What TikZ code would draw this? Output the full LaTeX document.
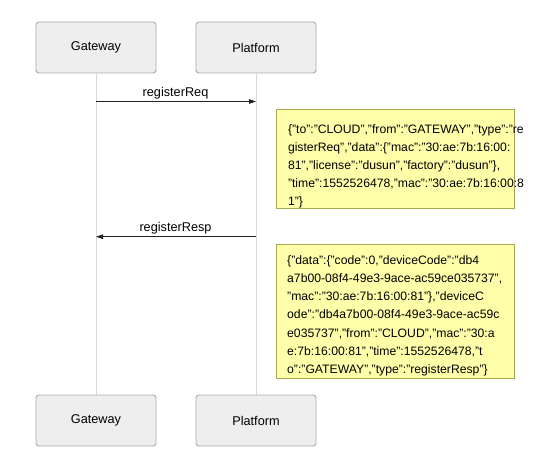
\documentclass[tikz,border=0pt]{standalone}
\usepackage{fontspec}
\setmainfont{Liberation Sans}
\usetikzlibrary{arrows.meta}
\definecolor{boxfill}{HTML}{EEEEEE}
\definecolor{boxdraw}{HTML}{AAAAAA}
\definecolor{lifecol}{HTML}{D8D8D8}
\definecolor{notefill}{HTML}{FFFFAA}
\definecolor{notedraw}{HTML}{A8A850}
\definecolor{msgcol}{HTML}{222222}
\begin{document}
\begin{tikzpicture}[x=1pt,y=-1pt,
  actor/.style={draw=boxdraw, fill=boxfill, rounded corners=3pt, line width=0.9pt,
    minimum width=120pt, minimum height=51pt, inner sep=0pt,
    font=\fontsize{12.7}{15}\selectfont},
  lifeline/.style={draw=lifecol, line width=1pt},
  msg/.style={draw=msgcol, line width=1pt, -{Triangle[length=7pt,width=4.5pt]}},
  msglabel/.style={font=\fontsize{12.7}{15}\selectfont, anchor=base, inner sep=0pt},
  notebox/.style={draw=notedraw, fill=notefill, line width=0.9pt, inner sep=0pt, anchor=north west},
  notetext/.style={font=\fontsize{12.2}{18.15}\selectfont, align=left, inner sep=0pt, anchor=north west}
]
\useasboundingbox[fill=white] (0,0) rectangle (540,462);

% actors
\node[actor] (gw)  at (96,47.5)  {Gateway};
\node[actor] (pf)  at (256,47.5) {Platform};
\node[actor] (gwb) at (96,420.5) {Gateway};
\node[actor] (pfb) at (256,420.5) {Platform};

% lifelines
\draw[lifeline] (gw.south) -- (gwb.north);
\draw[lifeline] (pf.south) -- (pfb.north);

% message anchors on lifelines
\coordinate (m1s) at (96,101.5);
\coordinate (m1e) at (256,101.5);
\coordinate (m2s) at (256,236.7);
\coordinate (m2e) at (96,236.7);

\draw[msg] (m1s) -- (m1e);
\node[msglabel] (l1) at (175.5,96.7) {registerReq};
\draw[msg] (m2s) -- (m2e);
\node[msglabel] (l2) at (175.5,231.5) {registerResp};

% notes
\node[notebox, minimum width=238.5pt, minimum height=99.5pt] (note1) at (275.5,109) {};
\node[notetext] (note1t) at (287.8,123) {\rule{0pt}{10pt}\{"to":"CLOUD","from":"GATEWAY","type":"re\\
gisterReq","data":\{"mac":"30:ae:7b:16:00:\\
81","license":"dusun","factory":"dusun"\},\\
"time":1552526478,"mac":"30:ae:7b:16:00:8\\
1"\}};

\node[notebox, minimum width=238.5pt, minimum height=133.5pt] (note2) at (275.5,244.2) {};
\node[notetext] (note2t) at (287,254.2) {\rule{0pt}{10pt}\{"data":\{"code":0,"deviceCode":"db4\\
a7b00-08f4-49e3-9ace-ac59ce035737",\\
"mac":"30:ae:7b:16:00:81"\},"deviceC\\
ode":"db4a7b00-08f4-49e3-9ace-ac59c\\
e035737","from":"CLOUD","mac":"30:a\\
e:7b:16:00:81","time":1552526478,"t\\
o":"GATEWAY","type":"registerResp"\}};
\end{tikzpicture}
\end{document}
